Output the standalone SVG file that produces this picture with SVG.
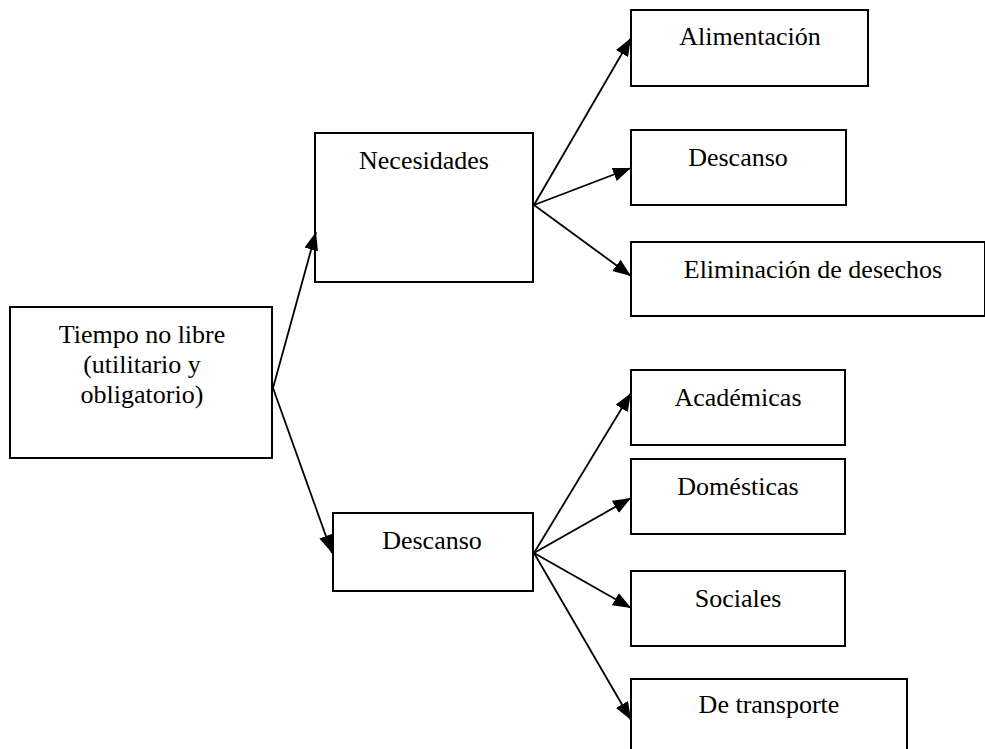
<svg xmlns="http://www.w3.org/2000/svg" width="985" height="749" viewBox="0 0 985 749">
<style>
rect.box{fill:#fff;stroke:#000;stroke-width:2}
text{font-family:"Liberation Serif","Times New Roman",serif;font-size:26px;fill:#000;text-anchor:middle}
.con line{stroke:#000;stroke-width:1.8;fill:none}
</style>
<defs>
<marker id="ah" markerUnits="userSpaceOnUse" markerWidth="20" markerHeight="14" refX="18" refY="7" orient="auto">
<path d="M0,0 L18,7 L0,14 Z" fill="#000"/>
</marker>
</defs>
<rect width="985" height="749" fill="#fff"/>
<g id="n-tiempo"><rect class="box" x="10" y="307" width="262" height="151"/><text x="142" y="343">Tiempo no libre</text><text x="142" y="373">(utilitario y</text><text x="142" y="403">obligatorio)</text></g>
<g id="n-necesidades"><rect class="box" x="315" y="133" width="218" height="149"/><text x="424" y="169">Necesidades</text></g>
<g id="n-descanso2"><rect class="box" x="333" y="513" width="200" height="78"/><text x="432" y="549">Descanso</text></g>
<g id="n-alimentacion"><rect class="box" x="631" y="10" width="237" height="76"/><text x="750" y="45">Alimentación</text></g>
<g id="n-descanso1"><rect class="box" x="631" y="130" width="215" height="75"/><text x="738" y="166">Descanso</text></g>
<g id="n-eliminacion"><rect class="box" x="631" y="242" width="354" height="74"/><text x="813" y="278">Eliminación de desechos</text></g>
<g id="n-academicas"><rect class="box" x="631" y="370" width="214" height="75"/><text x="738" y="406">Académicas</text></g>
<g id="n-domesticas"><rect class="box" x="631" y="459" width="214" height="75"/><text x="738" y="495">Domésticas</text></g>
<g id="n-sociales"><rect class="box" x="631" y="571" width="214" height="75"/><text x="738" y="607">Sociales</text></g>
<g id="n-transporte"><rect class="box" x="631" y="679" width="276" height="80"/><text x="769" y="713">De transporte</text></g>
<g class="con">
<line x1="273" y1="388" x2="316" y2="232" marker-end="url(#ah)"/>
<line x1="273" y1="388" x2="332" y2="553" marker-end="url(#ah)"/>
<line x1="534" y1="205" x2="631" y2="38" marker-end="url(#ah)"/>
<line x1="534" y1="205" x2="631" y2="168" marker-end="url(#ah)"/>
<line x1="534" y1="205" x2="631" y2="276" marker-end="url(#ah)"/>
<line x1="534" y1="553" x2="631" y2="393" marker-end="url(#ah)"/>
<line x1="534" y1="553" x2="631" y2="498" marker-end="url(#ah)"/>
<line x1="534" y1="553" x2="631" y2="608" marker-end="url(#ah)"/>
<line x1="534" y1="553" x2="631" y2="720" marker-end="url(#ah)"/>
</g>
</svg>
